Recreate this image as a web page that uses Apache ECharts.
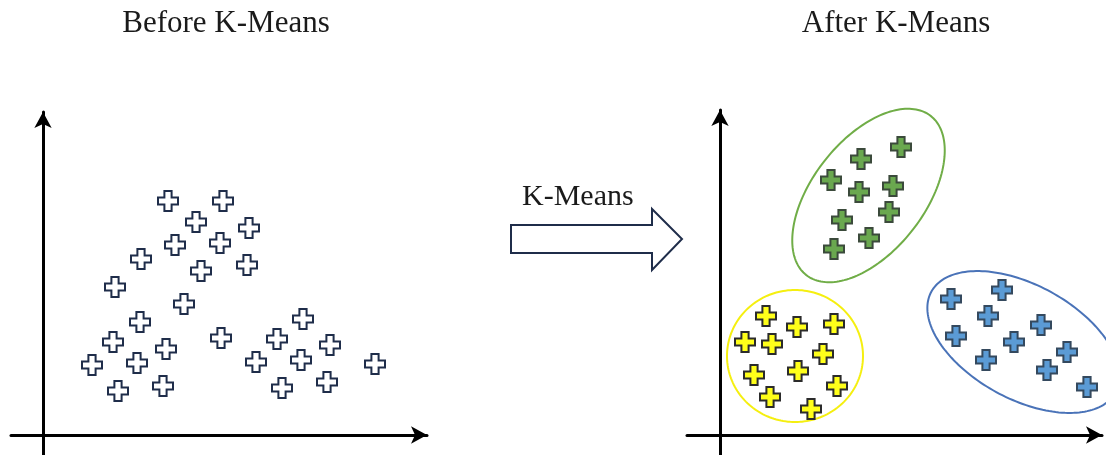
<!DOCTYPE html>
<html>
<head>
<meta charset="utf-8">
<script src="https://cdn.jsdelivr.net/npm/echarts@6/dist/echarts.min.js"></script>
<style>html,body{margin:0;padding:0;background:#fff}#c{width:1106px;height:455px}</style>
</head>
<body>
<div id="c"></div>
<script>
// ---- data ----
const titles = ['Before K-Means', 'After K-Means'];
const arrowLabel = 'K-Means';
const beforePoints = [
  [125,234],[180,234],[153,213],[206,207],[132,190],[177,192],[98,176],[158,164],[204,170],
  [72,148],[141,131],[97,113],[70,93],[123,86],[178,97],[49,70],[94,72],[75,44],[120,49],
  [260,116],[234,96],[287,90],[213,73],[258,75],[239,47],[284,53],[332,71]
];
const greenPoints = [[181,288],[141,276],[111,255],[139,243],[173,249],[122,215],[169,223],[149,197],[114,186]];
const yellowPoints = [[46,119],[77,108],[114,111],[25,93],[52,91],[103,81],[34,60],[78,64],[117,49],[50,38],[91,26]];
const bluePoints = [[231,136],[282,145],[268,119],[236,99],[321,110],[294,93],[266,75],[347,83],[327,65],[367,48]];
// cluster outlines: [centerX, centerY, semiMajor, semiMinor, angleDeg]
const clusterShapes = [
  [148.5, 239.5, 101, 56, 52],
  [75, 79, 68, 66, 0],
  [303.5, 93, 105, 57, -28.6]
];
const clusterColors = ['#70ad47', '#f5ef10', '#4a73b8'];

const cross = 'path://M32,0H68V32H100V68H68V100H32V68H0V32H32Z';
const chart = echarts.init(document.getElementById('c'));

function axisPair(gi, xmin, xmax, ymin, ymax) {
  const line = {show: true, onZero: true, symbol: ['none', 'arrow'], symbolSize: [13, 16],
    lineStyle: {color: '#000', width: 3}};
  return [
    {type: 'value', gridIndex: gi, min: xmin, max: xmax, axisLine: line, axisTick: {show: false},
      axisLabel: {show: false}, splitLine: {show: false}},
    {type: 'value', gridIndex: gi, min: ymin, max: ymax, axisLine: line, axisTick: {show: false},
      axisLabel: {show: false}, splitLine: {show: false}}
  ];
}
const ax0 = axisPair(0, -32, 384, -20, 323);
const ax1 = axisPair(1, -33, 382, -20, 325);

function scatter(data, xi, fill, border) {
  return {type: 'scatter', xAxisIndex: xi, yAxisIndex: xi, data: data, symbol: cross, symbolSize: 20,
    itemStyle: {color: fill, borderColor: border, borderWidth: 2, opacity: 1}, z: 5};
}

const serif = '"Liberation Serif", "DejaVu Serif", serif';

chart.setOption({
  animation: false,
  title: [
    {text: titles[0], left: 221, top: 3, textAlign: 'center', textStyle: {fontFamily: serif, fontSize: 31, fontWeight: 'normal', color: '#1a1a1a'}},
    {text: titles[1], left: 891, top: 3, textAlign: 'center', textStyle: {fontFamily: serif, fontSize: 31, fontWeight: 'normal', color: '#1a1a1a'}}
  ],
  grid: [
    {left: 11, top: 112, width: 416, height: 343},
    {left: 687, top: 110, width: 415, height: 345}
  ],
  xAxis: [ax0[0], ax1[0]],
  yAxis: [ax0[1], ax1[1]],
  graphic: [
    {type: 'polygon', shape: {points: [[511,225],[652,225],[652,209],[682,239],[652,270],[652,253],[511,253]]},
      style: {fill: '#fff', stroke: '#1f2d4a', lineWidth: 2}},
    {type: 'text', left: 522, top: 182, style: {text: arrowLabel, font: '30px ' + serif, fill: '#1a1a1a'}}
  ],
  series: [
    scatter(beforePoints, 0, '#ffffff', '#1f2d4a'),
    {
      type: 'custom', xAxisIndex: 1, yAxisIndex: 1, clip: false, z: 3,
      data: clusterShapes.map((s, i) => s.concat([i])),
      renderItem: function (params, api) {
        const cx = api.value(0), cy = api.value(1), a = api.value(2), b = api.value(3);
        const th = api.value(4) * Math.PI / 180;
        const idx = api.value(5);
        const pts = [];
        for (let k = 0; k < 180; k++) {
          const t = k / 180 * Math.PI * 2;
          const x = cx + a * Math.cos(th) * Math.cos(t) - b * Math.sin(th) * Math.sin(t);
          const y = cy + a * Math.sin(th) * Math.cos(t) + b * Math.cos(th) * Math.sin(t);
          pts.push(api.coord([x, y]));
        }
        return {type: 'polygon', shape: {points: pts},
          style: {fill: 'none', stroke: clusterColors[idx], lineWidth: 2}};
      }
    },
    scatter(greenPoints, 1, '#6aa84f', '#3b4a3b'),
    scatter(yellowPoints, 1, '#ffff1a', '#2b2b2b'),
    scatter(bluePoints, 1, '#5b9bd5', '#34495e')
  ]
});
</script>
</body>
</html>
